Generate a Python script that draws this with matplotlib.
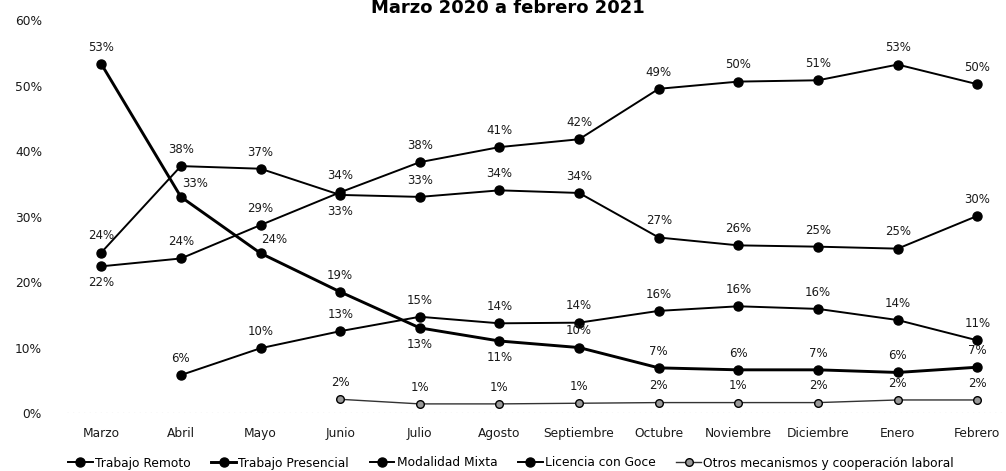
import matplotlib.pyplot as plt
from matplotlib.ticker import PercentFormatter

plt.rcParams['font.family'] = ['DejaVu Sans']

meses = ['Marzo', 'Abril', 'Mayo', 'Junio', 'Julio', 'Agosto', 'Septiembre',
         'Octubre', 'Noviembre', 'Diciembre', 'Enero', 'Febrero']

remoto = [22.4, 23.6, 28.7, 33.7, 38.3, 40.6, 41.8, 49.5, 50.6, 50.8, 53.2, 50.2]
presencial = [53.3, 33.0, 24.4, 18.5, 13.0, 11.0, 10.0, 6.9, 6.6, 6.6, 6.2, 7.0]
mixta = [None, 5.8, 9.9, 12.5, 14.7, 13.7, 13.8, 15.6, 16.3, 15.9, 14.2, 11.1]
licencia = [24.5, 37.7, 37.3, 33.3, 33.0, 34.0, 33.6, 26.8, 25.6, 25.4, 25.1, 30.1]
otros = [None, None, None, 2.1, 1.4, 1.4, 1.5, 1.6, 1.6, 1.6, 2.0, 2.0]

lbl_remoto = ['22%', '24%', '29%', '34%', '38%', '41%', '42%', '49%', '50%', '51%', '53%', '50%']
lbl_presencial = ['53%', '33%', '24%', '19%', '13%', '11%', '10%', '7%', '6%', '7%', '6%', '7%']
lbl_mixta = [None, '6%', '10%', '13%', '15%', '14%', '14%', '16%', '16%', '16%', '14%', '11%']
lbl_licencia = ['24%', '38%', '37%', '33%', '33%', '34%', '34%', '27%', '26%', '25%', '25%', '30%']
lbl_otros = [None, None, None, '2%', '1%', '1%', '1%', '2%', '1%', '2%', '2%', '2%']

# label placement: 'a' above, 'b' below, 'r' above-right
pos_remoto = ['b', 'a', 'a', 'a', 'a', 'a', 'a', 'a', 'a', 'a', 'a', 'a']
pos_presencial = ['a', 'r', 'r', 'a', 'b', 'b', 'a', 'a', 'a', 'a', 'a', 'a']
pos_mixta = ['a'] * 12
pos_licencia = ['a', 'a', 'a', 'b', 'a', 'a', 'a', 'a', 'a', 'a', 'a', 'a']
pos_otros = ['a'] * 12

fig = plt.figure(figsize=(10.06, 4.71), dpi=100)
ax = fig.add_axes([0.0666, 0.123, 0.935, 0.8345])

x = list(range(len(meses)))

series = [
    ('Trabajo Remoto', remoto, lbl_remoto, pos_remoto, 1.4, 'black', 6.5),
    ('Trabajo Presencial', presencial, lbl_presencial, pos_presencial, 2.1, 'black', 6.5),
    ('Modalidad Mixta', mixta, lbl_mixta, pos_mixta, 1.4, 'black', 6.5),
    ('Licencia con Goce', licencia, lbl_licencia, pos_licencia, 1.4, 'black', 6.5),
    ('Otros mecanismos y cooperación laboral', otros, lbl_otros, pos_otros, 1.0, '#333333', 5.5),
]

for name, vals, lbls, pos, lw, col, ms in series:
    xs = [i for i, v in zip(x, vals) if v is not None]
    ys = [v for v in vals if v is not None]
    if name.startswith('Otros'):
        ax.plot(xs, ys, color=col, lw=lw, marker='o', ms=ms, mfc='#999999',
                mec='black', mew=1.0, label=name)
    else:
        ax.plot(xs, ys, color=col, lw=lw, marker='o', ms=ms, label=name)
    for i, v in enumerate(vals):
        if v is None:
            continue
        p = pos[i]
        if p == 'b':
            off = (0, -12)
        elif p == 'r':
            off = (10, 10)
        else:
            off = (0, 12)
        ax.annotate(lbls[i], (i, v), xytext=off, textcoords='offset points',
                    ha='center', va='center', fontsize=8.5, color='#1a1a1a')

ax.axhline(0, color='#888888', lw=0.8, ls=(0, (1, 4)))

ax.set_xlim(-0.43, 11.38)
ax.set_ylim(0, 60)
ax.set_yticks([0, 10, 20, 30, 40, 50, 60])
ax.yaxis.set_major_formatter(PercentFormatter(decimals=0))
ax.set_xticks(x)
ax.set_xticklabels(meses)
ax.tick_params(axis='both', length=0, labelsize=8.8, colors='#1a1a1a')
ax.tick_params(axis='x', pad=10)
ax.tick_params(axis='y', pad=18)
for s in ax.spines.values():
    s.set_visible(False)

fig.text(0.505, 1 - 13 / 471, 'Marzo 2020 a febrero 2021', ha='center',
         va='baseline', fontsize=13, fontweight='bold')

fig.legend(loc='center', bbox_to_anchor=(0.508, 1 - 463 / 471), ncol=5,
           frameon=False, fontsize=8.8, handlelength=2.0, handletextpad=0.2,
           columnspacing=1.7, borderaxespad=0)

fig.savefig('out.png', dpi=100)
